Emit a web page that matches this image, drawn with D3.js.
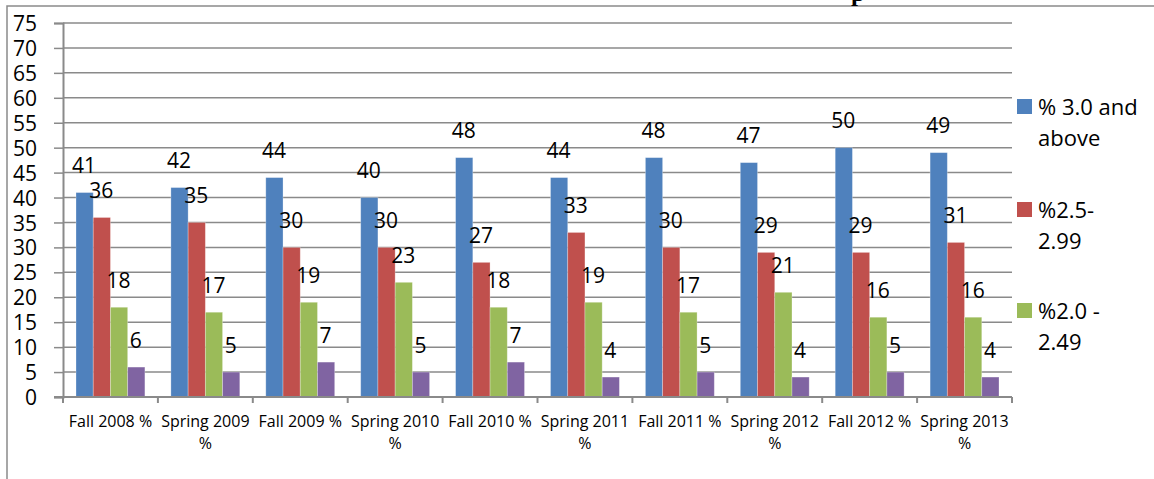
<!DOCTYPE html>
<html>
<head>
<meta charset="utf-8">
<script src="https://cdn.jsdelivr.net/npm/d3@7/dist/d3.min.js"></script>
<style>
  html, body { margin: 0; padding: 0; background: #fff; }
  svg { display: block; }
  text { font-family: "Open Sans", "DejaVu Sans", sans-serif; fill: #000; }
</style>
</head>
<body>
<svg id="chart" width="1154" height="479"></svg>
<script>
const categories = ["Fall 2008 %", "Spring 2009 %", "Fall 2009 %", "Spring 2010 %", "Fall 2010 %",
                    "Spring 2011 %", "Fall 2011 %", "Spring 2012 %", "Fall 2012 %", "Spring 2013 %"];
const seriesNames = ["% 3.0 and above", "%2.5-2.99", "%2.0 -2.49", "% below 2.0"];
const s30Above = [41, 42, 44, 40, 48, 44, 48, 47, 50, 49];
const s25to299 = [36, 35, 30, 30, 27, 33, 30, 29, 29, 31];
const s20to249 = [18, 17, 19, 23, 18, 19, 17, 21, 16, 16];
const sBelow20 = [6, 5, 7, 5, 7, 4, 5, 4, 5, 4];
const yTicks = [0, 5, 10, 15, 20, 25, 30, 35, 40, 45, 50, 55, 60, 65, 70, 75];
const legendLines = [["% 3.0 and", "above"], ["%2.5-", "2.99"], ["%2.0 -", "2.49"]];
const colors = ["#4F81BD", "#C0504D", "#9BBB59", "#8064A2"];

(function () {
const seriesValues = [s30Above, s25to299, s20to249, sBelow20];
const svg = d3.select("#chart");

// outer chart frame
svg.append("rect").attr("x", 7).attr("y", 6).attr("width", 1300).attr("height", 600)
  .attr("fill", "none").attr("stroke", "#8a8a8a").attr("stroke-width", 1.5);

// cut-off title fragment
svg.append("text").attr("x", 851).attr("y", 0.5)
  .style("font-family", "'Liberation Serif', serif").style("font-weight", "bold")
  .style("font-size", "25px").text("p");

const pLeft = 63, pRight = 1012, pTop = 23, pBottom = 397;
const x = d3.scaleBand().domain(categories).range([pLeft, pRight]).padding(0);
const gap = 13;
const xs = d3.scaleBand().domain(d3.range(seriesValues.length)).range([gap, x.bandwidth() - gap]).padding(0);
const y = d3.scaleLinear().domain([0, 75]).range([pBottom, pTop]);

const gridColor = "#8a8a8a";

// gridlines
svg.append("g").selectAll("line").data(yTicks.filter(d => d > 0)).join("line")
  .attr("x1", pLeft).attr("x2", pRight)
  .attr("y1", d => y(d)).attr("y2", d => y(d))
  .attr("stroke", gridColor).attr("stroke-width", 1.5);

// y axis
const yAxis = svg.append("g").attr("transform", `translate(${pLeft},0)`)
  .call(d3.axisLeft(y).tickValues(yTicks).tickSize(9).tickPadding(17).tickFormat(d3.format("d")));
yAxis.select(".domain").attr("stroke", gridColor).attr("stroke-width", 2);
yAxis.selectAll(".tick line").attr("stroke", gridColor).attr("stroke-width", 1.5);
yAxis.selectAll(".tick text").style("font-size", "21px").style("font-family", "'Open Sans', sans-serif")
  .attr("dy", "0.36em").attr("fill", "#000");

// bars
const groups = svg.append("g").selectAll("g").data(seriesValues).join("g")
  .attr("fill", (d, i) => colors[i]);
groups.each(function(vals, si) {
  d3.select(this).selectAll("rect").data(vals).join("rect")
    .attr("x", (d, ci) => x(categories[ci]) + xs(si))
    .attr("width", xs.bandwidth())
    .attr("y", d => y(d))
    .attr("height", d => y(0) - y(d))
    .attr("stroke", "rgba(255,255,255,0.35)").attr("stroke-width", 0.8);
});

// value labels
const labelLayer = svg.append("g");
seriesValues.forEach((vals, si) => {
  labelLayer.append("g").selectAll("text").data(vals).join("text")
    .attr("x", (d, ci) => x(categories[ci]) + xs(si) + xs.bandwidth() / 2 - 0.5)
    .attr("y", d => y(d) - 19.5)
    .attr("text-anchor", "middle")
    .style("font-size", "21px")
    .text(d => d);
});

// x axis line
svg.append("line").attr("x1", pLeft - 9).attr("x2", pRight).attr("y1", pBottom).attr("y2", pBottom)
  .attr("stroke", gridColor).attr("stroke-width", 2);
// category boundary ticks
const boundaries = categories.map(c => x(c)).concat([pRight]);
svg.append("g").selectAll("line").data(boundaries).join("line")
  .attr("x1", d => d).attr("x2", d => d).attr("y1", pBottom).attr("y2", pBottom + 6)
  .attr("stroke", gridColor).attr("stroke-width", 2);

// category labels (wrapped)
function wrapLabel(label) {
  const m = label.match(/^(Spring \d{4}) (%)$/);
  return m ? [m[1], m[2]] : [label];
}
const xl = svg.append("g").selectAll("text").data(categories).join("text")
  .attr("text-anchor", "middle")
  .attr("x", d => x(d) + x.bandwidth() / 2)
  .attr("y", 427)
  .style("font-size", "16px");
xl.each(function(d) {
  const t = d3.select(this);
  wrapLabel(d).forEach((line, i) => {
    t.append("tspan").attr("x", x(d) + x.bandwidth() / 2).attr("dy", i === 0 ? 0 : 22).text(line);
  });
});

// legend
const legendTop = [99, 202, 303];
const lg = svg.append("g").selectAll("g").data(legendLines).join("g")
  .attr("transform", (d, i) => `translate(1017,${legendTop[i]})`);
lg.append("rect").attr("width", 15).attr("height", 15).attr("fill", (d, i) => colors[i]);
lg.append("text").attr("x", 21).attr("y", 16).style("font-size", "22px")
  .selectAll("tspan").data(d => d).join("tspan")
  .attr("x", 21).attr("dy", (d, i) => i === 0 ? 0 : 30.5).text(d => d);
})();
</script>
</body>
</html>
